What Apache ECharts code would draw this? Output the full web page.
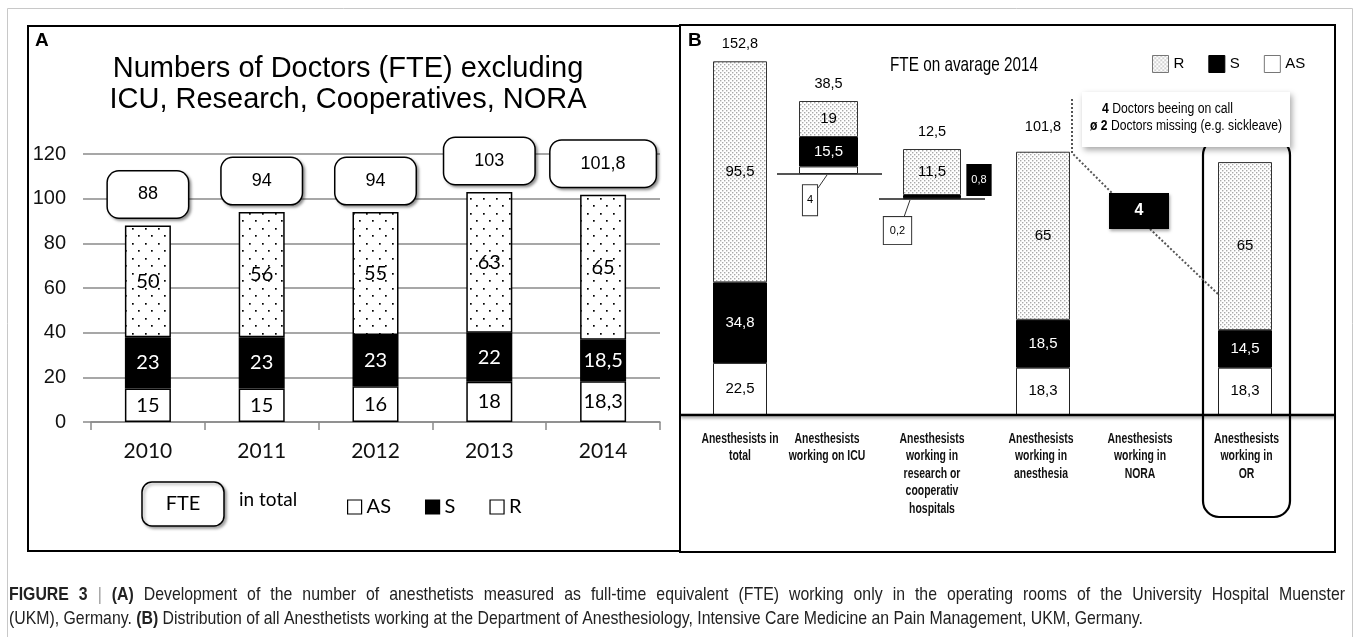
<!DOCTYPE html>
<html><head><meta charset="utf-8">
<script src="https://cdn.jsdelivr.net/npm/echarts@6/dist/echarts.min.js"></script>
<style>html,body{margin:0;padding:0;background:#fff}#c{width:1356px;height:637px}</style>
</head><body><div id="c"></div>
<script>
// ---------- Panel A data ----------
const yearsA = ['2010', '2011', '2012', '2013', '2014'];
const asA = [15, 15, 16, 18, 18.3];
const sA = [23, 23, 23, 22, 18.5];
const rA = [50, 56, 55, 63, 65];
const totalA = [88, 94, 94, 103, 101.8];
const yTicksA = [0, 20, 40, 60, 80, 100, 120];

// ---------- Panel B data ----------
const catsB = [
  'Anesthesists in\ntotal',
  'Anesthesists\nworking on ICU',
  'Anesthesists\nworking in\nresearch or\ncooperativ\nhospitals',
  'Anesthesists\nworking in\nanesthesia',
  'Anesthesists\nworking in\nNORA',
  'Anesthesists\nworking in\nOR'
];
const asB = [22.5, 4, 0.2, 18.3, null, 18.3];
const sB = [34.8, 15.5, 0.8, 18.5, null, 14.5];
const rB = [95.5, 19, 11.5, 65, null, 65];
const totalB = [152.8, 38.5, 12.5, 101.8, null, null];
const noraOnCall = 4;
const noraMissing = 2;

// ---------- helpers ----------
const ARIAL = '"Liberation Sans", Arial, sans-serif';
const CAL = 'Lato, "Open Sans", sans-serif';
const fmt = v => (v == null || v === '-') ? '' : String(v).replace('.', ',');

const mctx = document.createElement('canvas').getContext('2d');
function textW(parts) {
  let w = 0;
  parts.forEach(p => { mctx.font = p[1]; w += mctx.measureText(p[0]).width; });
  return w;
}

function pattern(w, h, dots, color, size) {
  const c = document.createElement('canvas');
  c.width = w; c.height = h;
  const ctx = c.getContext('2d');
  ctx.fillStyle = '#fff'; ctx.fillRect(0, 0, w, h);
  ctx.fillStyle = color;
  dots.forEach(d => ctx.fillRect(d[0], d[1], size, size));
  return { image: c, repeat: 'repeat' };
}
const patA = pattern(13, 15, [[2, 3], [8, 10]], '#000', 1.7);
const patB = pattern(4, 4, [[0, 0], [2, 2]], '#a9a9a9', 1.4);

const chart = echarts.init(document.getElementById('c'), null, { renderer: 'canvas' });

// ---------- Panel A series ----------
const labA = { show: true, position: 'inside', fontFamily: CAL, fontSize: 20 };
const seriesA = [
  { name: 'AS', type: 'bar', xAxisIndex: 0, yAxisIndex: 0, stack: 'a', barWidth: 46, data: asA,
    itemStyle: { color: '#fff', borderColor: '#000', borderWidth: 1.5 },
    label: Object.assign({}, labA, { color: '#000', formatter: p => fmt(p.value) }) },
  { name: 'S', type: 'bar', xAxisIndex: 0, yAxisIndex: 0, stack: 'a', barWidth: 46, data: sA,
    itemStyle: { color: '#000', borderColor: '#000', borderWidth: 1.5 },
    label: Object.assign({}, labA, { color: '#fff', formatter: p => fmt(p.value) }) },
  { name: 'R', type: 'bar', xAxisIndex: 0, yAxisIndex: 0, stack: 'a', barWidth: 46, data: rA,
    itemStyle: { color: patA, borderColor: '#000', borderWidth: 1.5 },
    label: Object.assign({}, labA, { color: '#000', formatter: p => fmt(p.value) }) },
  { name: 'FTE', type: 'bar', xAxisIndex: 0, yAxisIndex: 0, stack: 'a', barWidth: 46, silent: true,
    data: totalA.map(() => 0), itemStyle: { color: 'transparent' },
    label: { show: true, position: 'top', distance: 8, formatter: p => fmt(totalA[p.dataIndex]),
      fontFamily: ARIAL, fontSize: 18, color: '#000', lineHeight: 20,
      backgroundColor: '#fff', borderColor: '#000', borderWidth: 1.5, borderRadius: 11,
      padding: [13, 30], shadowColor: 'rgba(0,0,0,0.35)', shadowBlur: 3, shadowOffsetX: 2, shadowOffsetY: 2 } }
];

// ---------- Panel B series ----------
const pick = (arr, idxs) => arr.map((v, i) => idxs.includes(i) ? v : '-');
const sub = (arr, idxs) => idxs.map(i => arr[i]);
const labB = { show: true, position: 'inside', fontFamily: ARIAL, fontSize: 15 };
const sumLab = (dist) => ({ show: true, position: 'top', distance: dist, fontFamily: ARIAL, fontSize: 14.5, color: '#000' });

function groupB(xi, yi, stack, a, s, r, tot, totIdx, bw, opts) {
  opts = opts || {};
  return [
    { name: 'AS', type: 'bar', xAxisIndex: xi, yAxisIndex: yi, stack, barWidth: bw, barGap: '-100%', data: a,
      itemStyle: { color: '#fff', borderColor: '#222', borderWidth: 1 },
      label: opts.asLabel || Object.assign({}, labB, { color: '#000', formatter: p => fmt(p.value) }) },
    { name: 'S', type: 'bar', xAxisIndex: xi, yAxisIndex: yi, stack, barWidth: bw, barGap: '-100%', data: s,
      itemStyle: { color: '#000', borderColor: '#000', borderWidth: 1 },
      label: opts.sLabel || Object.assign({}, labB, { color: '#fff', formatter: p => fmt(p.value) }) },
    { name: 'R', type: 'bar', xAxisIndex: xi, yAxisIndex: yi, stack, barWidth: bw, barGap: '-100%', data: r,
      itemStyle: { color: patB, borderColor: '#333', borderWidth: 1 },
      label: Object.assign({}, labB, { color: '#000', formatter: p => fmt(p.value) }) },
    { name: 'tot', type: 'bar', xAxisIndex: xi, yAxisIndex: yi, stack, barWidth: bw, barGap: '-100%', silent: true,
      data: tot.map(v => v === '-' || v == null ? '-' : 0), itemStyle: { color: 'transparent' },
      label: Object.assign(sumLab(opts.dist || 10), { formatter: p => fmt(totIdx[p.dataIndex]) }) }
  ];
}

const seriesB = [].concat(
  groupB(1, 1, 'btot', pick(asB, [0]), pick(sB, [0]), pick(rB, [0]), pick(totalB, [0]), totalB, 54),
  groupB(1, 2, 'bao', pick(asB, [3, 5]), pick(sB, [3, 5]), pick(rB, [3, 5]), pick(totalB, [3]), totalB, 54, { dist: 17 }),
  groupB(2, 3, 'icu', sub(asB, [1]), sub(sB, [1]), sub(rB, [1]), sub(totalB, [1]), sub(totalB, [1]), '100%', {
    asLabel: { show: true, position: 'inside', offset: [-18.5, 30], formatter: p => fmt(p.value),
      fontFamily: ARIAL, fontSize: 11, color: '#000', lineHeight: 30, padding: [0, 4],
      backgroundColor: '#fff', borderColor: '#333', borderWidth: 1 }
  }),
  groupB(3, 4, 'res', sub(asB, [2]), sub(sB, [2]), sub(rB, [2]), sub(totalB, [2]), sub(totalB, [2]), '100%', {
    asLabel: { show: true, position: 'inside', offset: [-34.5, 32], formatter: p => fmt(p.value),
      fontFamily: ARIAL, fontSize: 11, color: '#000', lineHeight: 27, padding: [0, 6],
      backgroundColor: '#fff', borderColor: '#333', borderWidth: 1 },
    sLabel: { show: true, position: 'inside', offset: [47, -16.6], formatter: p => fmt(p.value),
      fontFamily: ARIAL, fontSize: 11, color: '#fff', lineHeight: 32, padding: [0, 5],
      backgroundColor: '#000' }
  })
);

const greyLine = { color: '#8a8a8a', width: 1.5 };

// ---------- caption (condensed; line 1 justified) ----------
const capFont = '19px ' + ARIAL, capBold = 'bold 19px ' + ARIAL;
const cap2Text = '(UKM), Germany. {b|(B)} Distribution of all Anesthetists working at the Department of Anesthesiology, Intensive Care Medicine an Pain Management, UKM, Germany.';
const cap2Parts = [['(UKM), Germany. ', capFont], ['(B)', capBold],
  [' Distribution of all Anesthetists working at the Department of Anesthesiology, Intensive Care Medicine an Pain Management, UKM, Germany.', capFont]];
const capScale = 1134 / textW(cap2Parts);
const cap1Words = [['FIGURE', capBold, '#222'], ['3', capBold, '#222'], ['|', capFont, '#999'], ['(A)', capBold, '#222']]
  .concat('Development of the number of anesthetists measured as full-time equivalent (FTE) working only in the operating rooms of the University Hospital Muenster'
    .split(' ').map(w => [w, capFont, '#222']));
const cap1W = cap1Words.map(w => textW([[w[0], w[1]]]) * capScale);
const cap1Gap = (1336 - cap1W.reduce((a, b) => a + b, 0)) / (cap1Words.length - 1);
const cap1Els = [];
let cx = 9;
cap1Words.forEach((w, i) => {
  cap1Els.push({ type: 'text', z: 6, x: cx, y: 595, scaleX: capScale,
    style: { x: 0, y: 0, text: w[0], font: w[1], fill: w[2], verticalAlign: 'middle' } });
  cx += cap1W[i] + cap1Gap;
});

const calloutFont = '15.5px ' + ARIAL, calloutBold = 'bold 15.5px ' + ARIAL;
const co1 = noraOnCall + ' Doctors beeing on call';
const co2 = 'ø ' + noraMissing + ' Doctors missing (e.g. sickleave)';
const co1Scale = 131 / textW([[co1, calloutFont]]);
const co2Scale = 192 / textW([[co2, calloutFont]]);
const titleBFont = '21px ' + ARIAL;
const titleBScale = 148 / textW([['FTE on avarage 2014', titleBFont]]);

const baseGraphic = [
  // outer frame + panels
  { type: 'rect', z: -1, shape: { x: 7.5, y: 8.5, width: 1345, height: 700 }, style: { fill: 'none', stroke: '#c8c8c8', lineWidth: 1 } },
  { type: 'rect', z: 1, shape: { x: 28, y: 26, width: 652, height: 525 }, style: { fill: 'none', stroke: '#000', lineWidth: 2 } },
  { type: 'rect', z: 1, shape: { x: 680, y: 25, width: 655, height: 527 }, style: { fill: 'none', stroke: '#000', lineWidth: 2 } },
  { type: 'text', z: 5, style: { x: 35, y: 41, text: 'A', font: 'bold 19px ' + ARIAL, fill: '#000', verticalAlign: 'middle' } },
  { type: 'text', z: 5, style: { x: 688, y: 41, text: 'B', font: 'bold 19px ' + ARIAL, fill: '#000', verticalAlign: 'middle' } },
  // title A
  { type: 'text', z: 5, style: { x: 348, y: 84, text: 'Numbers of Doctors (FTE) excluding\nICU, Research, Cooperatives, NORA',
    font: '29px ' + ARIAL, lineHeight: 31, fill: '#000', align: 'center', verticalAlign: 'middle' } },
  // legend A extra
  { type: 'rect', z: 5, shape: { x: 142, y: 482, width: 82, height: 44, r: 10 },
    style: { fill: '#fff', stroke: '#000', lineWidth: 1.5, shadowColor: 'rgba(0,0,0,0.35)', shadowBlur: 3, shadowOffsetX: 2, shadowOffsetY: 2 } },
  { type: 'text', z: 6, style: { x: 183, y: 504, text: 'FTE', font: '20px ' + CAL, fill: '#000', align: 'center', verticalAlign: 'middle' } },
  { type: 'text', z: 6, style: { x: 239, y: 500, text: 'in total', font: '19px ' + CAL, fill: '#000', verticalAlign: 'middle' } },
  // title B
  { type: 'text', z: 5, x: 964, y: 65, scaleX: titleBScale,
    style: { x: 0, y: 0, text: 'FTE on avarage 2014', font: titleBFont, fill: '#000', align: 'center', verticalAlign: 'middle' } },
  // baselines
  { type: 'line', z: 3, shape: { x1: 681, y1: 415, x2: 1335, y2: 415 },
    style: { stroke: '#000', lineWidth: 2.5, shadowColor: 'rgba(0,0,0,0.4)', shadowBlur: 3, shadowOffsetY: 2 } },
  { type: 'line', z: 0, shape: { x1: 777, y1: 174, x2: 882, y2: 174 }, style: { stroke: '#555', lineWidth: 2 } },
  { type: 'line', z: 0, shape: { x1: 879, y1: 199, x2: 985, y2: 199 }, style: { stroke: '#555', lineWidth: 2 } },
  { type: 'line', z: 0, shape: { x1: 827, y1: 175, x2: 818, y2: 188 }, style: { stroke: '#333', lineWidth: 1 } },
  { type: 'line', z: 0, shape: { x1: 910, y1: 200, x2: 904, y2: 217 }, style: { stroke: '#333', lineWidth: 1 } },
  // OR highlight
  { type: 'rect', z: 4, shape: { x: 1203, y: 139, width: 87, height: 378, r: 16 }, style: { fill: 'none', stroke: '#000', lineWidth: 2.2 } },
  // NORA annotation
  { type: 'polyline', z: 4, shape: { points: [[1072, 99], [1072, 153], [1112, 193]] }, style: { stroke: '#555', lineWidth: 2, lineDash: [2, 2], fill: 'none' } },
  { type: 'line', z: 4, shape: { x1: 1150, y1: 229, x2: 1219, y2: 295 }, style: { stroke: '#555', lineWidth: 2, lineDash: [2, 2] } },
  { type: 'rect', z: 5, shape: { x: 1109, y: 193, width: 60, height: 36 }, style: { fill: '#000', shadowColor: 'rgba(0,0,0,0.35)', shadowBlur: 3, shadowOffsetX: 1, shadowOffsetY: 2 } },
  { type: 'text', z: 6, style: { x: 1139, y: 211, text: String(noraOnCall), font: 'bold 16px ' + ARIAL, fill: '#fff', align: 'center', verticalAlign: 'middle' } },
  { type: 'rect', z: 5, shape: { x: 1082, y: 92, width: 208, height: 55 }, style: { fill: '#fff', shadowColor: 'rgba(0,0,0,0.35)', shadowBlur: 6, shadowOffsetX: 2, shadowOffsetY: 3 } },
  { type: 'text', z: 6, x: 1102, y: 109, scaleX: co1Scale, style: { x: 0, y: 0, text: '{b|' + noraOnCall + '} Doctors beeing on call', font: calloutFont, fill: '#000', verticalAlign: 'middle',
    rich: { b: { font: calloutBold, fill: '#000' } } } },
  { type: 'text', z: 6, x: 1090, y: 126, scaleX: co2Scale, style: { x: 0, y: 0, text: '{b|ø ' + noraMissing + '} Doctors missing (e.g. sickleave)', font: calloutFont, fill: '#000', verticalAlign: 'middle',
    rich: { b: { font: calloutBold, fill: '#000' } } } },
  // caption line 2
  { type: 'text', z: 6, x: 9, y: 619, scaleX: capScale, style: { x: 0, y: 0, text: cap2Text,
    font: capFont, fill: '#222', verticalAlign: 'middle', rich: { b: { font: capBold, fill: '#222' } } } }
].concat(cap1Els);

const option = {
  animation: false,
  backgroundColor: '#fff',
  grid: [
    { left: 91, top: 154, width: 569, height: 268 },
    { left: 689.5, top: 40, width: 606, height: 375 },
    { left: 799, top: 101, width: 59, height: 73 },
    { left: 903, top: 149, width: 58, height: 50 }
  ],
  xAxis: [
    { gridIndex: 0, type: 'category', data: yearsA,
      axisLine: { lineStyle: greyLine }, axisTick: { show: true, length: 8, lineStyle: greyLine },
      axisLabel: { fontFamily: CAL, fontSize: 21, color: '#111', margin: 19 } },
    { gridIndex: 1, type: 'category', data: catsB, axisLine: { show: false }, axisTick: { show: false },
      axisLabel: { show: false } },
    { gridIndex: 2, type: 'category', data: [catsB[1]], show: false },
    { gridIndex: 3, type: 'category', data: [catsB[2]], show: false }
  ],
  yAxis: [
    { gridIndex: 0, type: 'value', min: yTicksA[0], max: yTicksA[yTicksA.length - 1],
      interval: yTicksA[1] - yTicksA[0],
      axisLine: { show: false }, axisTick: { show: true, length: 8, lineStyle: greyLine },
      splitLine: { lineStyle: greyLine },
      axisLabel: { fontFamily: ARIAL, fontSize: 20, color: '#111', margin: 25 } },
    { gridIndex: 1, type: 'value', min: 0, max: 162, show: false },
    { gridIndex: 1, type: 'value', min: 0, max: 145, show: false },
    { gridIndex: 2, type: 'value', min: 0, max: 'dataMax', show: false },
    { gridIndex: 3, type: 'value', min: 0, max: 'dataMax', show: false }
  ],
  legend: [
    { selectedMode: false, left: 342, top: 492, itemWidth: 14, itemHeight: 14, itemGap: 34,
      textStyle: { fontFamily: CAL, fontSize: 20, color: '#000' },
      data: [
        { name: 'AS', icon: 'rect', itemStyle: { color: '#fff', borderColor: '#000', borderWidth: 1.2 } },
        { name: 'S', icon: 'rect', itemStyle: { color: '#000', borderColor: '#000', borderWidth: 1.2 } },
        { name: 'R', icon: 'rect', itemStyle: { color: '#fff', borderColor: '#000', borderWidth: 1.2 } }
      ] },
    { selectedMode: false, left: 1152, top: 55, padding: 0, itemWidth: 16, itemHeight: 17, itemGap: 24,
      textStyle: { fontFamily: ARIAL, fontSize: 15, color: '#000' },
      data: [
        { name: 'R', icon: 'rect', itemStyle: { color: patB, borderColor: '#777', borderWidth: 1 } },
        { name: 'S', icon: 'rect', itemStyle: { color: '#000', borderColor: '#000', borderWidth: 1 } },
        { name: 'AS', icon: 'rect', itemStyle: { color: '#fff', borderColor: '#777', borderWidth: 1 } }
      ] }
  ],
  series: seriesA.concat(seriesB),
  graphic: baseGraphic
};
chart.setOption(option);

// category labels of panel B, placed at the category positions of the panel-B axis
const shiftB = [0, -14, -10, -2, -4, 1.5];
const catFont = 'bold 14.5px ' + ARIAL;
const catLabels = catsB.map((c, i) => {
  const px = chart.convertToPixel({ xAxisIndex: 1 }, i) + shiftB[i];
  return { type: 'text', z: 6, x: px, y: 430, scaleX: 0.72,
    style: { x: 0, y: 0, text: c, font: catFont, lineHeight: 17.5, fill: '#111', align: 'center', verticalAlign: 'top' } };
});
chart.setOption({ graphic: baseGraphic.concat(catLabels) });
</script>
</body></html>
